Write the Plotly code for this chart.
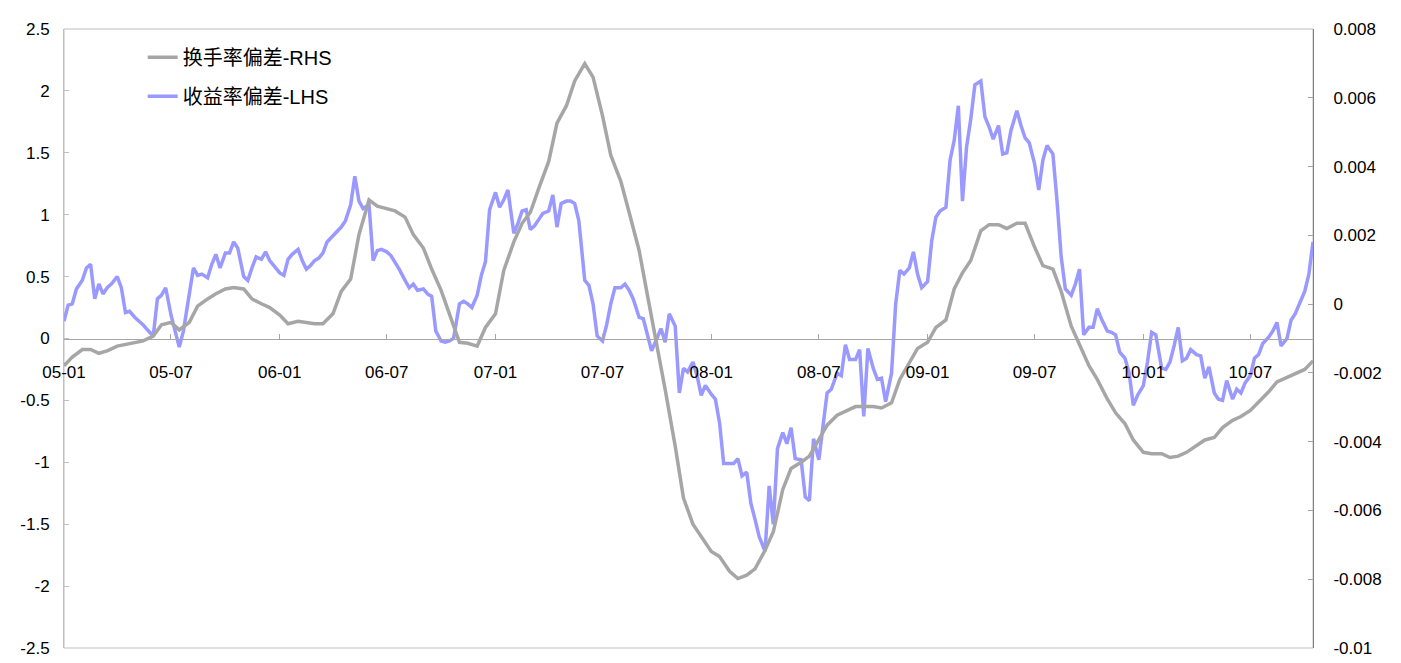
import plotly.graph_objects as go

# sample dates: weekly-ish for the return series, semi-monthly for the turnover series
blue_dates = [f"{y}-{m:02d}-{d:02d}" for y in range(2005, 2011) for m in range(1, 13)
              for d in (1, 8, 15, 22)]
blue_dates = [d for d in blue_dates if d <= "2010-10-15"]
grey_dates = [f"{y}-{m:02d}-{d:02d}" for y in range(2005, 2011) for m in range(1, 13)
              for d in (1, 15)]
grey_dates = [d for d in grey_dates if d <= "2010-10-15"]

# 收益率偏差 (left axis)
return_dev = [
    0.14, 0.27, 0.28, 0.40, 0.47, 0.57, 0.60, 0.32, 0.44, 0.36,
    0.41, 0.44, 0.50, 0.41, 0.21, 0.22, 0.17, 0.14, 0.11, 0.07,
    0.02, 0.32, 0.35, 0.41, 0.19, 0.06, -0.07, 0.06, 0.35, 0.57,
    0.51, 0.52, 0.49, 0.60, 0.68, 0.57, 0.69, 0.69, 0.78, 0.73,
    0.50, 0.47, 0.57, 0.66, 0.64, 0.70, 0.63, 0.59, 0.53, 0.51,
    0.64, 0.68, 0.72, 0.63, 0.56, 0.59, 0.63, 0.65, 0.69, 0.78,
    0.83, 0.86, 0.90, 0.95, 1.08, 1.31, 1.11, 1.05, 1.08, 0.63,
    0.71, 0.72, 0.70, 0.67, 0.62, 0.56, 0.47, 0.41, 0.44, 0.39,
    0.40, 0.36, 0.34, 0.06, -0.02, -0.03, -0.02, 0.00, 0.28, 0.30,
    0.28, 0.25, 0.35, 0.51, 0.62, 1.04, 1.18, 1.06, 1.12, 1.20,
    0.85, 0.93, 1.03, 1.04, 0.88, 0.91, 0.96, 1.01, 1.03, 1.16,
    0.90, 1.09, 1.11, 1.11, 1.09, 0.95, 0.47, 0.43, 0.28, 0.02,
    -0.02, 0.11, 0.28, 0.41, 0.41, 0.44, 0.39, 0.32, 0.17, 0.16,
    0.03, -0.10, 0.00, 0.08, -0.03, 0.20, 0.10, -0.44, -0.24, -0.27,
    -0.19, -0.30, -0.46, -0.38, -0.45, -0.49, -0.68, -1.01, -1.01, -1.01,
    -0.97, -1.11, -1.08, -1.33, -1.46, -1.60, -1.72, -1.19, -1.50, -0.89,
    -0.76, -0.85, -0.72, -0.97, -0.98, -1.28, -1.31, -0.81, -0.98, -0.71,
    -0.44, -0.41, -0.28, -0.30, -0.05, -0.17, -0.17, -0.09, -0.63, -0.08,
    -0.24, -0.33, -0.32, -0.51, -0.28, 0.28, 0.55, 0.52, 0.57, 0.70,
    0.52, 0.41, 0.46, 0.79, 0.98, 1.03, 1.06, 1.44, 1.60, 1.88,
    1.11, 1.55, 1.77, 2.05, 2.08, 1.79, 1.71, 1.61, 1.72, 1.49,
    1.50, 1.68, 1.84, 1.72, 1.62, 1.58, 1.41, 1.20, 1.44, 1.56,
    1.49, 1.11, 0.66, 0.40, 0.35, 0.44, 0.56, 0.03, 0.09, 0.09,
    0.24, 0.16, 0.06, 0.05, 0.03, -0.11, -0.16, -0.28, -0.54, -0.46,
    -0.38, -0.19, 0.05, 0.03, -0.24, -0.25, -0.19, -0.06, 0.09, -0.18,
    -0.16, -0.09, -0.13, -0.14, -0.32, -0.23, -0.44, -0.49, -0.50, -0.34,
    -0.49, -0.41, -0.44, -0.36, -0.30, -0.16, -0.13, -0.04, 0.01, 0.06,
    0.13, -0.06, 0.00, 0.15, 0.20, 0.28, 0.38, 0.52, 0.78,
]

# 换手率偏差 (right axis)
turnover_dev = [
    -0.00179, -0.00154, -0.00132, -0.00132, -0.00143, -0.00136, -0.00122, -0.00118, -0.00111, -0.00107,
    -0.00093, -0.00060, -0.00053, -0.00075, -0.00053, -0.00006, 0.00015, 0.00030, 0.00044, 0.00048,
    0.00044, 0.00015, 0.00001, -0.00010, -0.00032, -0.00057, -0.00050, -0.00053, -0.00057, -0.00057,
    -0.00028, 0.00037, 0.00073, 0.00202, 0.00303, 0.00285, 0.00278, 0.00271, 0.00253, 0.00202,
    0.00163, 0.00102, 0.00040, -0.00028, -0.00111, -0.00114, -0.00122, -0.00068, -0.00028, 0.00098,
    0.00181, 0.00235, 0.00267, 0.00336, 0.00415, 0.00526, 0.00577, 0.00649, 0.00699, 0.00660,
    0.00548, 0.00433, 0.00357, 0.00267, 0.00156, 0.00026, -0.00114, -0.00248, -0.00413, -0.00564,
    -0.00640, -0.00676, -0.00719, -0.00734, -0.00777, -0.00798, -0.00788, -0.00770, -0.00716, -0.00662,
    -0.00539, -0.00478, -0.00460, -0.00442, -0.00395, -0.00352, -0.00323, -0.00312, -0.00298, -0.00298,
    -0.00298, -0.00302, -0.00287, -0.00219, -0.00172, -0.00129, -0.00111, -0.00068, -0.00046, 0.00044,
    0.00091, 0.00127, 0.00213, 0.00231, 0.00231, 0.00220, 0.00235, 0.00235, 0.00166, 0.00112,
    0.00102, 0.00037, -0.00064, -0.00118, -0.00179, -0.00219, -0.00276, -0.00316, -0.00348, -0.00395,
    -0.00431, -0.00435, -0.00435, -0.00446, -0.00442, -0.00431, -0.00410, -0.00395, -0.00388, -0.00359,
    -0.00338, -0.00327, -0.00309, -0.00284, -0.00255, -0.00226, -0.00212, -0.00201, -0.00190, -0.00165,
]

left_ticks = [2.5, 2, 1.5, 1, 0.5, 0, -0.5, -1, -1.5, -2, -2.5]
left_text = ["2.5", "2", "1.5", "1", "0.5", "0", "-0.5", "-1", "-1.5", "-2", "-2.5"]
right_ticks = [0.008, 0.006, 0.004, 0.002, 0, -0.002, -0.004, -0.006, -0.008, -0.01]
right_text = ["0.008", "0.006", "0.004", "0.002", "0", "-0.002", "-0.004", "-0.006", "-0.008", "-0.01"]
x_ticks = [f"{y}-{m:02d}-01" for y in range(2005, 2011) for m in (1, 7)]
x_text = [f"{y % 100:02d}-{m:02d}" for y in range(2005, 2011) for m in (1, 7)]

FONT = "Liberation Sans, Arial, Noto Sans CJK SC"
GREY = "#A6A6A6"
BLUE = "#9999FF"

fig = go.Figure()
fig.add_trace(go.Scatter(
    x=blue_dates, y=return_dev, mode="lines", name="收益率偏差-LHS",
    line=dict(color=BLUE, width=3.5), legendgroup="b", legendrank=2,
))
fig.add_trace(go.Scatter(
    x=grey_dates, y=turnover_dev, mode="lines", name="换手率偏差-RHS",
    line=dict(color=GREY, width=3.5), yaxis="y2", legendgroup="a", legendrank=1,
))

# page body adds an 8px offset, margins compensate for it
fig.update_layout(
    width=1401, height=663,
    margin=dict(l=53, r=96, t=14, b=23),
    paper_bgcolor="white", plot_bgcolor="white",
    font=dict(family=FONT, size=17, color="black"),
    showlegend=True,
    legend=dict(x=0.063, y=0.986, xanchor="left", yanchor="top",
                bgcolor="rgba(0,0,0,0)", font=dict(size=20, family=FONT),
                tracegroupgap=10),
    xaxis=dict(
        type="date", range=["2005-01-01", "2010-10-15"],
        tickvals=x_ticks, ticktext=x_text,
        anchor="free", position=0.5,
        showline=True, linecolor="#A6A6A6", linewidth=1,
        ticks="inside", ticklen=5, tickcolor="#A6A6A6",
        ticklabelstandoff=18, showgrid=False, zeroline=False,
    ),
    yaxis=dict(
        range=[-2.5, 2.5], tickvals=left_ticks, ticktext=left_text,
        showline=True, linecolor="#BFBFBF", linewidth=1,
        ticks="inside", ticklen=5, tickcolor="#BFBFBF",
        ticklabelstandoff=10, showgrid=False, zeroline=False,
    ),
    yaxis2=dict(
        range=[-0.01, 0.008], tickvals=right_ticks, ticktext=right_text,
        overlaying="y", side="right",
        showline=True, linecolor="#808080", linewidth=1,
        ticks="inside", ticklen=5, tickcolor="#A6A6A6",
        ticklabelstandoff=16, showgrid=False, zeroline=False,
    ),
    shapes=[dict(type="rect", xref="paper", yref="paper", x0=0, x1=1, y0=0, y1=1,
                 line=dict(color="#BFBFBF", width=1), layer="below")],
)

fig.write_html("out.html")
